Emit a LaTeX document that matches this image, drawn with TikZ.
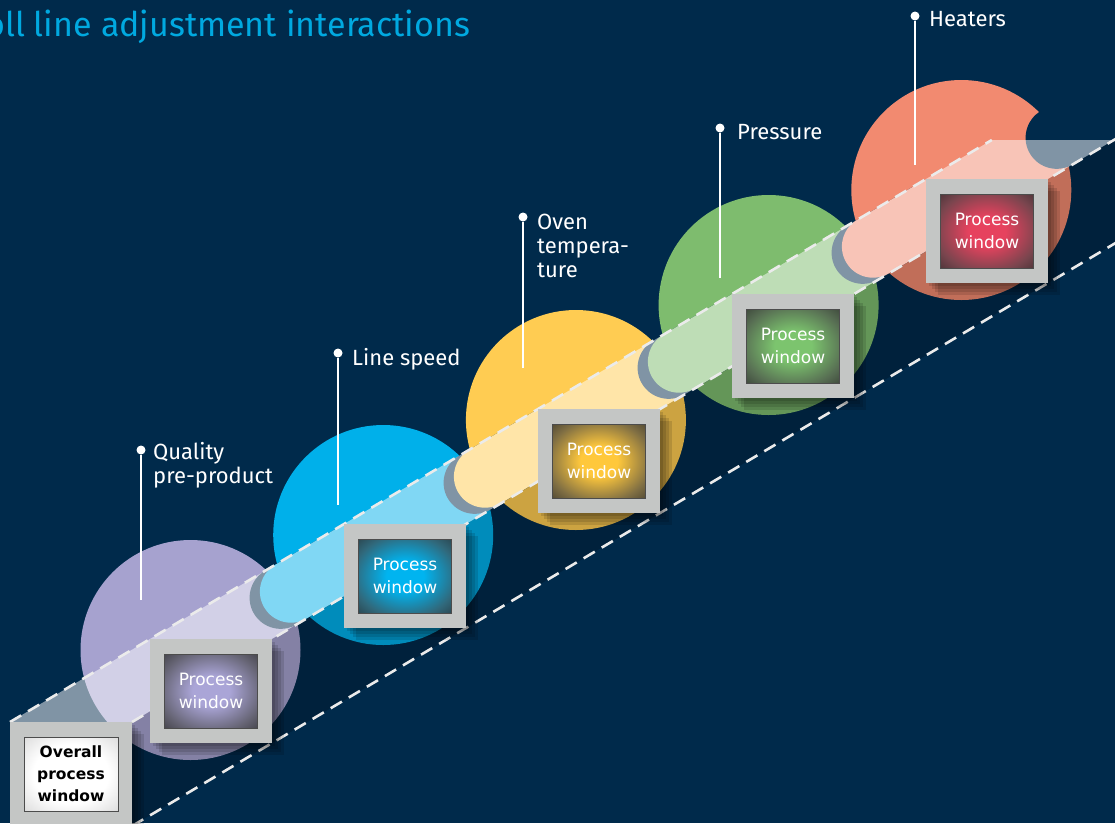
\documentclass[tikz,border=0pt]{standalone}
\usepackage{fontspec}
\newfontfamily\lblfont{Fira Sans}
\newfontfamily\winfont{DejaVu Sans}
\usetikzlibrary{calc, positioning}

\definecolor{navybg}{RGB}{0,42,75}
\definecolor{cq}{RGB}{166,162,207}
\definecolor{cl}{RGB}{0,176,234}
\definecolor{co}{RGB}{255,204,82}
\definecolor{cpr}{RGB}{126,188,110}
\definecolor{ch}{RGB}{242,138,112}
\definecolor{wq}{RGB}{170,165,215}
\definecolor{wl}{RGB}{0,180,240}
\definecolor{wo}{RGB}{255,200,60}
\definecolor{wp}{RGB}{124,196,110}
\definecolor{wh}{RGB}{230,66,94}
\definecolor{framegray}{RGB}{196,198,197}
\definecolor{titlecyan}{RGB}{0,169,224}

\colorlet{wincol}{white}
\pgfdeclareradialshading[wincol]{winshade}{\pgfpoint{0bp}{0bp}}{color(0bp)=(wincol); color(10bp)=(wincol); color(28bp)=(wincol!50!black!62!gray); color(44bp)=(black!85); color(50bp)=(black!90); color(72bp)=(black)}
\pgfdeclareradialshading{oshade}{\pgfpoint{0bp}{0bp}}{color(0bp)=(white); color(20bp)=(white); color(34bp)=(black!12); color(45bp)=(black!45); color(50bp)=(black!72); color(72bp)=(black!85)}

\begin{document}
\begin{tikzpicture}[x=1pt, y=-1pt,
  disc/.style={circle, inner sep=0, minimum size=220pt},
  pwframe/.style={rectangle, fill=framegray, minimum width=122pt, minimum height=104pt, inner sep=0},
  pwwin/.style={rectangle, minimum width=93pt, minimum height=74pt, inner sep=0, draw=black!70, line width=.8pt, shade, shading=winshade, text=white, font=\winfont\fontsize{17}{23}\selectfont, align=center},
  dashedge/.style={draw=white!92!black, line width=2.6pt, dash pattern=on 13pt off 8pt},
  pindot/.style={circle, fill=white, inner sep=0, minimum size=9pt},
  pinline/.style={white, line width=1.4pt},
  lbl/.style={text=white, font=\lblfont\fontsize{22}{24}\selectfont, align=left, inner sep=0, anchor=base west}]
\useasboundingbox (0,0) rectangle (1115,823);
\fill[navybg] (0,0) rectangle (1115,823);

% circles
\foreach \n/\c [count=\k from 0] in {q/cq, l/cl, o/co, p/cpr, h/ch}
  \node[disc, fill=\c] (disc\n) at ({190.5+192.7*\k},{650-115*\k}) {};

% pins
\foreach \n/\x/\y/\b in {q/141/450/600, l/338/353/505, o/523/217/368, p/720/128/278, h/915/16/165} {
  \node[pindot] (dot\n) at (\x,\y) {};
  \coordinate (foot\n) at (\x,\b);
  \draw[pinline] (dot\n) -- (foot\n);
}

% capsules on the top face
\foreach \c [count=\k] in {cl, co, cpr, ch, navybg} {
  \begin{scope}
    \clip (0,{639-115*\k}) rectangle (1115,823);
    \begin{scope}[shift={({291+194*(\k-1)},{591.6-115*(\k-1)})}, rotate=30.66]
      \fill[navybg] (-12,0) circle (31.1);
      \fill[navybg] (-12,-31.1) rectangle (300,31.1);
      \fill[\c] (0,0) circle (31.1);
      \fill[\c] (0,-31.1) rectangle (300,31.1);
    \end{scope}
  \end{scope}
}

\coordinate (oTL) at (10,722);
\coordinate (oTR) at (132,722);
\coordinate (oBR) at (132,826);
\coordinate (tEnd) at (991.8,140);
\coordinate (tCut) at (1113.8,140);
\coordinate (mEnd) at (1125,133.4);
\coordinate (bEnd) at (1125,237.4);

% top face and side face
\fill[white, opacity=.5] (oTL) -- (tEnd) -- (tCut) -- (oTR) -- cycle;
\fill[black, opacity=.2] (oTR) -- (mEnd) -- (bEnd) -- (oBR) -- cycle;
\draw[dashedge] (oTL) -- (tEnd);
\draw[dashedge] (oTR) -- (mEnd);
\draw[dashedge] (oBR) -- (bEnd);

% overall window
\coordinate (fco) at (71,774);
\foreach \s in {3,6,9,12}
  \fill[black, opacity=.12] ($(fco)+(-61+\s,-52+\s)$) rectangle ($(fco)+(61+\s,52+\s)$);
\node[pwframe] (frameo) at (fco) {};
\node[pwwin, minimum width=94pt, shading=oshade, text=black, font=\winfont\bfseries\fontsize{15.5}{22}\selectfont] (wino) at (frameo.center) {Overall\\process\\window};

% process windows
\foreach \n/\w [count=\k from 0] in {q/wq, l/wl, o/wo, p/wp, h/wh} {
  \coordinate (fc\n) at ({211+194*\k},{691-115*\k});
  \foreach \s in {3,6,9,12}
    \fill[black, opacity=.12] ($(fc\n)+(-61+\s,-52+\s)$) rectangle ($(fc\n)+(61+\s,52+\s)$);
  \node[pwframe] (frame\n) at (fc\n) {};
  \colorlet{wincol}{\w}
  \node[pwwin] (win\n) at (frame\n.center) {Process\\window};
}

% labels
\node[lbl] (lblq) at (153,483) {Quality\\pre-product};
\node[lbl] (lbll) at (352,365) {Line speed};
\node[lbl] (lblo) at (537,277) {Oven\\tempera-\\ture};
\node[lbl] (lblp) at (737,139) {Pressure};
\node[lbl] (lblh) at (929,26) {Heaters};
\node[anchor=base west, inner sep=0, text=titlecyan, font=\lblfont\fontsize{34}{40}\selectfont] (title) at (-15,36) {oll line adjustment interactions};
\end{tikzpicture}
\end{document}
